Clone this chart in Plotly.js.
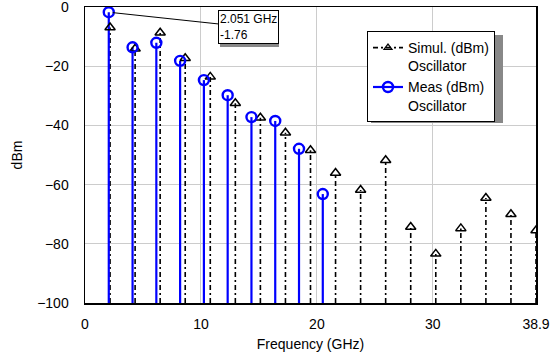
<!DOCTYPE html>
<html>
<head>
<meta charset="utf-8">
<script src="https://cdn.plot.ly/plotly-3.0.1.min.js"></script>
<style>html,body{margin:0;padding:0;background:#fff;}#chart{width:559px;height:358px;}</style>
</head>
<body>
<div id="chart"></div>
<script>
// Measured harmonics (GHz, dBm)
const measFreq = [2.051, 4.102, 6.153, 8.204, 10.255, 12.306, 14.357, 16.408, 18.459, 20.51];
const measVal  = [-1.76, -13.6, -12.1, -18.2, -24.7, -29.8, -37.2, -38.5, -47.9, -63.2];
// Simulated harmonics (GHz, dBm)
const simFreq = [2.161, 4.322, 6.483, 8.644, 10.806, 12.967, 15.128, 17.289, 19.45, 21.611,
                 23.772, 25.933, 28.094, 30.256, 32.417, 34.578, 36.739, 38.9];
const simVal  = [-6.9, -14.1, -8.7, -17.3, -23.6, -32.5, -37.4, -42.5, -48.4, -56.1,
                 -61.8, -51.8, -74.3, -83.4, -74.8, -64.5, -70.0, -75.5];
const xTickVals = [0, 10, 20, 30, 38.9];
const xTickText = ['0', '10', '20', '30', '38.9'];
const yTickVals = [0, -20, -40, -60, -80, -100];
const baseVal = -100;

function stems(xs, ys) {
  const sx = [], sy = [];
  xs.forEach((x, i) => { sx.push(x, x, null); sy.push(baseVal, ys[i], null); });
  return {sx, sy};
}
const ms = stems(measFreq, measVal);
const ss = stems(simFreq, simVal);

const FONT = 'Liberation Sans, Arial, Helvetica, sans-serif';
const simLine = {color: '#000', width: 1.6, dash: '5px,3px,2px,3px'};
const measLine = {color: '#0000ff', width: 2.2};
const simMarker = {symbol: 'triangle-up-open', size: 9, color: '#000', line: {width: 1.5, color: '#000'}};
const measMarker = {symbol: 'circle-open', size: 10, color: '#0000ff', line: {width: 2.4, color: '#0000ff'}};

const data = [
  {x: ss.sx, y: ss.sy, mode: 'lines', line: simLine, showlegend: false, hoverinfo: 'skip'},
  {x: ms.sx, y: ms.sy, mode: 'lines', line: measLine, showlegend: false, hoverinfo: 'skip'},
  {x: simFreq, y: simVal, mode: 'markers', marker: simMarker, showlegend: false},
  {x: measFreq, y: measVal, mode: 'markers', marker: measMarker, showlegend: false},
  {x: [null], y: [null], mode: 'lines+markers', name: 'Simul. (dBm)<br>Oscillator',
   line: simLine, marker: {symbol: 'triangle-up-open', size: 7, color: '#000', line: {width: 1.2, color: '#000'}}},
  {x: [null], y: [null], mode: 'lines+markers', name: 'Meas (dBm)<br>Oscillator',
   line: measLine, marker: measMarker}
];

const L = 85, T = 7, R = 536, B = 303;
const px = x => (x - L) / (R - L);
const py = y => (B - y) / (B - T);

const layout = {
  width: 559, height: 358,
  margin: {l: L, r: 559 - R, t: T, b: 358 - B},
  paper_bgcolor: '#fff', plot_bgcolor: '#fff',
  font: {family: FONT, size: 14, color: '#000'},
  showlegend: true,
  legend: {
    x: px(367), y: py(31), xanchor: 'left', yanchor: 'top',
    bgcolor: '#fff', bordercolor: '#000', borderwidth: 1,
    font: {family: FONT, size: 14, color: '#000'},
    valign: 'top', tracegroupgap: 8, itemwidth: 30
  },
  xaxis: {
    range: [0, 38.9], tickvals: xTickVals, ticktext: xTickText,
    showgrid: true, gridcolor: '#cccccc', gridwidth: 1,
    showline: true, linecolor: '#000', linewidth: 1.5, mirror: true,
    ticks: '', zeroline: false, ticklabelstandoff: 8, ticklabeloverflow: 'allow',
    title: {text: 'Frequency (GHz)', font: {family: FONT, size: 14}, standoff: 8},
    automargin: false
  },
  yaxis: {
    range: [-100, 0], tickvals: yTickVals,
    showgrid: true, gridcolor: '#cccccc', gridwidth: 1,
    showline: true, linecolor: '#000', linewidth: 1.5, mirror: true,
    ticks: '', zeroline: false, ticklabelstandoff: 12, ticklabeloverflow: 'allow',
    title: {text: 'dBm', font: {family: FONT, size: 14}, standoff: 11},
    automargin: false
  },
  shapes: [
    {type: 'rect', xref: 'paper', yref: 'paper', layer: 'above',
     x0: px(220), x1: px(279), y0: py(47), y1: py(13),
     fillcolor: '#888', line: {width: 0}},
    {type: 'rect', xref: 'paper', yref: 'paper', layer: 'above',
     x0: px(371), x1: px(503), y0: py(123), y1: py(35),
     fillcolor: '#888', line: {width: 0}}
  ],
  annotations: [
    {x: measFreq[0], y: measVal[0], xref: 'x', yref: 'y',
     text: measFreq[0].toFixed(3) + ' GHz<br>' + measVal[0].toFixed(2),
     showarrow: true, arrowhead: 0, arrowwidth: 1, arrowcolor: '#000',
     ax: 140, ay: 15, standoff: 4, align: 'left',
     bgcolor: '#fff', bordercolor: '#000', borderwidth: 1, borderpad: 1,
     font: {family: FONT, size: 12, color: '#000'}}
  ]
};

Plotly.newPlot('chart', data, layout, {staticPlot: true, displayModeBar: false});
</script>
</body>
</html>
